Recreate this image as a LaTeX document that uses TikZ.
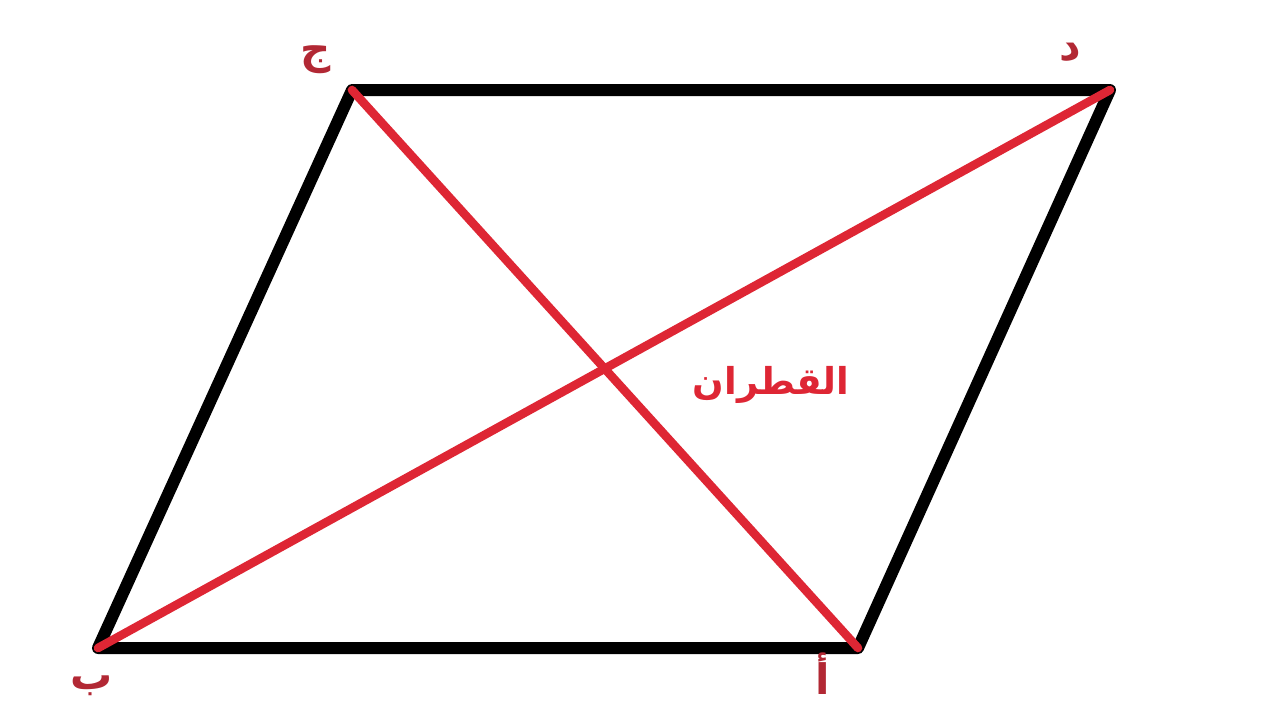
\documentclass[tikz,border=0pt]{standalone}
\usepackage{fontspec}
\newfontfamily\arabicfont[Script=Arabic]{DejaVu Sans}
\TeXXeTstate=1
\definecolor{diagred}{RGB}{222,38,52}
\definecolor{labelred}{RGB}{178,40,52}
\tikzset{
  side/.style={line width=6pt, black, line cap=round, line join=round},
  diagonal/.style={line width=4.3pt, diagred, line cap=round},
  vlabel/.style={text=labelred, font=\arabicfont\bfseries\fontsize{21}{24}\selectfont, inner sep=0pt},
}
\begin{document}
\begin{tikzpicture}[x=0.5pt, y=-0.5pt]
    \useasboundingbox (0,0) rectangle (1280,720);
    % Define vertices
        \coordinate (J) at (352,90);
        \coordinate (D) at (1110,90);
        \coordinate (B) at (98,648);
        \coordinate (A) at (858,648);
        % Draw sides
        \draw[side] (B) -- (A) -- (D) -- (J) -- cycle;
        % Draw diagonals
        \draw[diagonal] (J) -- (A);
        \draw[diagonal] (B) -- (D);
        % Labels
        \node[vlabel] (lJ) at (316,60) {\beginR ج\endR};
        \node[vlabel] (lD) at (1070,52) {\beginR د\endR};
        \node[vlabel] (lB) at (92,686) {\beginR ب\endR};
        \node[vlabel] (lA) at (823,674) {\beginR أ\endR};
        \node[text=diagred, font=\arabicfont\bfseries\fontsize{18.5}{22}\selectfont, inner sep=0pt] (diag) at (771,385) {\beginR القطران\endR};
    \end{tikzpicture}
\end{document}
